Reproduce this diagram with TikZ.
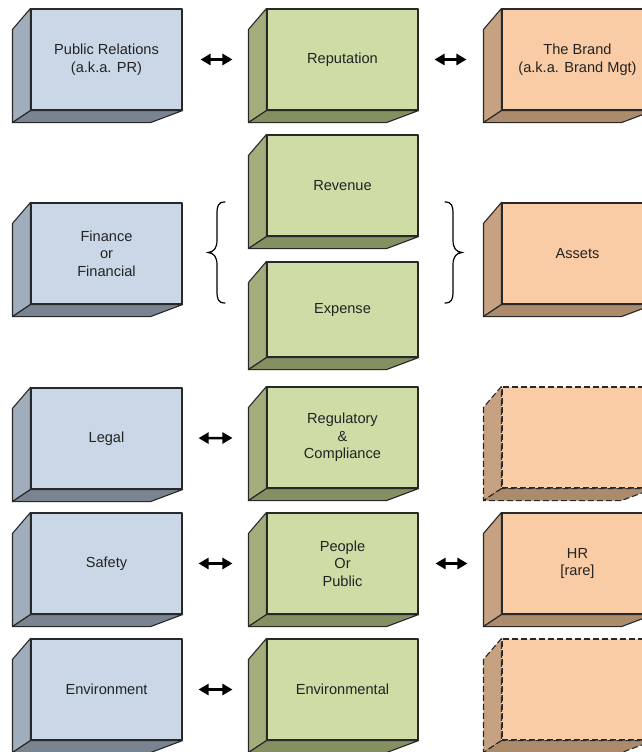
\documentclass[tikz,border=0pt]{standalone}
\usepackage{fontspec}
\setmainfont{Liberation Sans}
\usetikzlibrary{arrows.meta,calc}
\definecolor{bluefront}{RGB}{202,215,230}
\definecolor{blueside}{RGB}{160,173,188}
\definecolor{bluebot}{RGB}{122,132,145}
\definecolor{greenfront}{RGB}{206,220,166}
\definecolor{greenside}{RGB}{163,174,124}
\definecolor{greenbot}{RGB}{132,143,98}
\definecolor{orangefront}{RGB}{249,204,166}
\definecolor{orangeside}{RGB}{199,162,130}
\definecolor{orangebot}{RGB}{172,138,108}
\definecolor{edgecol}{RGB}{40,40,40}
\definecolor{txt}{RGB}{35,35,35}
\tikzset{
  face/.style={draw=edgecol, line width=1.1pt, line join=round},
  front/.style={face, fill=#1front, minimum width=151pt, minimum height=101pt,
    inner sep=0pt, align=center, font=\fontsize{14.6}{17.5}\selectfont, text=txt},
  side/.style={face, fill=#1side},
  bottom/.style={face, fill=#1bot},
  dashedbox/.style={dash pattern=on 6pt off 3pt},
  link/.style={{Triangle[length=10pt,width=11pt]}-{Triangle[length=10pt,width=11pt]}, line width=2.5pt, black},
  bracestyle/.style={line width=1.2pt, black, line cap=round},
}
\newcommand\cubebox[5]{%
  \node[front=#3,#4] (#1) at (#2) {#5};
  \filldraw[side=#3,#4] (#1.north west) -- ++(-18,21) -- ($(#1.south west)+(-18,12)$) -- (#1.south west) -- cycle;
  \filldraw[bottom=#3,#4] (#1.south west) -- ($(#1.south west)+(-18,12)$) -- ($(#1.south east)+(-32,12)$) -- (#1.south east) -- cycle;
}
\begin{document}
\begin{tikzpicture}[x=1pt,y=-1pt]
\useasboundingbox (0,0) rectangle (642,752);
\clip (0,0) rectangle (642,752);
\fill[white] (0,0) rectangle (642,752);
% column 1
\cubebox{pr}{106.5,59.5}{blue}{}{Public Relations\\(a.k.a. PR)}
\cubebox{fin}{106.5,253.5}{blue}{}{Finance\\or\\Financial}
\cubebox{legal}{106.5,438.5}{blue}{}{Legal}
\cubebox{safety}{106.5,563.5}{blue}{}{Safety}
\cubebox{env}{106.5,689.5}{blue}{}{Environment}
% column 2
\cubebox{rep}{342.5,59.5}{green}{}{Reputation}
\cubebox{rev}{342.5,185.5}{green}{}{Revenue}
\cubebox{exp}{342.5,309.5}{green}{minimum height=95pt}{Expense}
\cubebox{reg}{342.5,437.5}{green}{}{Regulatory\\\&\\Compliance}
\cubebox{people}{342.5,563.5}{green}{}{People\\Or\\Public}
\cubebox{envl}{342.5,689.5}{green}{}{Environmental}
% column 3
\cubebox{brand}{577.5,59.5}{orange}{}{The Brand\\(a.k.a. Brand Mgt)}
\cubebox{assets}{577.5,253.5}{orange}{}{Assets}
\cubebox{blank1}{577.5,437.5}{orange}{dashedbox}{}
\cubebox{hr}{577.5,563.5}{orange}{}{HR\\{[rare]}}
\cubebox{blank2}{577.5,689.5}{orange}{dashedbox}{}
% arrows
\draw[link, shorten <=18pt, shorten >=34pt] (pr) -- (rep);
\draw[link, shorten <=16pt, shorten >=35pt] (rep) -- (brand);
\draw[link, shorten <=16pt, shorten >=34pt] (legal) -- (reg);
\draw[link, shorten <=16pt, shorten >=34pt] (safety) -- (people);
\draw[link, shorten <=17pt, shorten >=34pt] (people) -- (hr);
\draw[link, shorten <=16pt, shorten >=34pt] (env) -- (envl);
% braces
\draw[bracestyle] (225,202) .. controls (218,202) and (217,206) .. (217,214) -- (217,240) .. controls (217,248) and (214,252) .. (208,252.5) .. controls (214,253) and (217,257) .. (217,265) -- (217,291) .. controls (217,299) and (218,303) .. (225,303);
\draw[bracestyle] (445,202) .. controls (452,202) and (453,206) .. (453,214) -- (453,240) .. controls (453,248) and (456,252) .. (462,252.5) .. controls (456,253) and (453,257) .. (453,265) -- (453,291) .. controls (453,299) and (452,303) .. (445,303);
\end{tikzpicture}
\end{document}
